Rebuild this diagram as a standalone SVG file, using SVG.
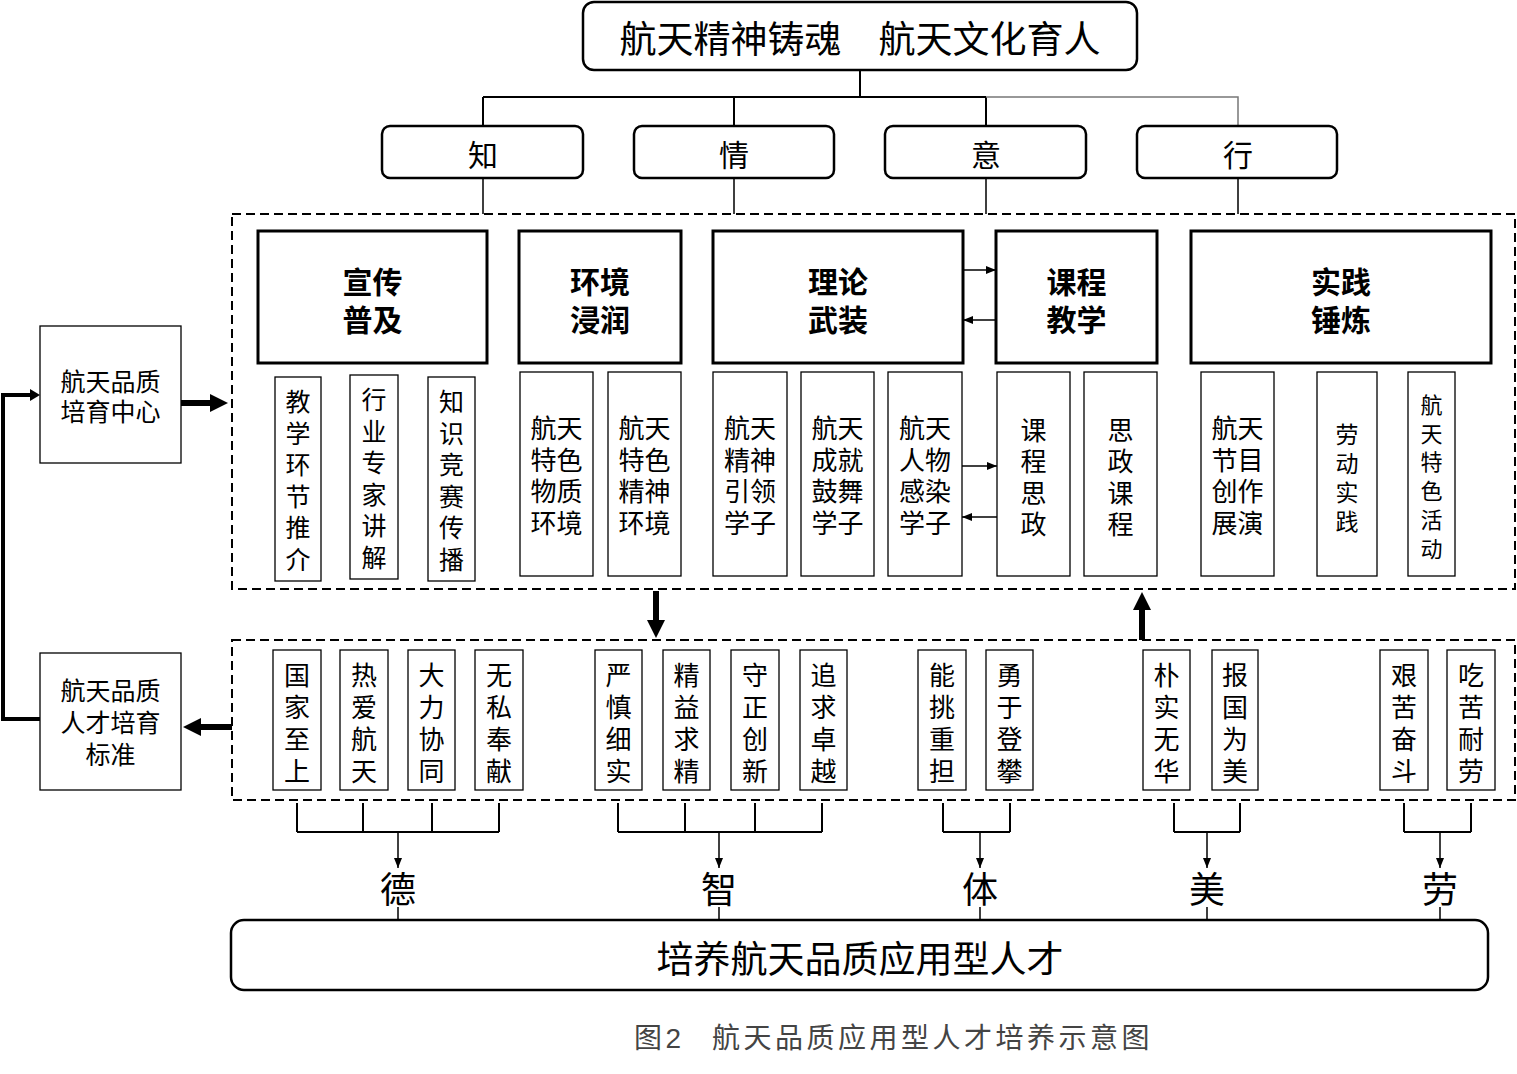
<svg xmlns="http://www.w3.org/2000/svg" width="1517" height="1074" viewBox="0 0 1517 1074">
<style>
text{font-family:"Liberation Sans","Noto Sans CJK SC",sans-serif;fill:#000;text-anchor:middle}
.rr{fill:#fff;stroke:#000;stroke-width:2.5}
.big{fill:#fff;stroke:#000;stroke-width:3}
.sm{fill:#fff;stroke:#000;stroke-width:1.3}
.dash{fill:none;stroke:#000;stroke-width:2;stroke-dasharray:9 5}
.ln{fill:none;stroke:#000;stroke-width:2}
.thin{fill:none;stroke:#000;stroke-width:1.5}
.thick{fill:none;stroke:#000;stroke-width:6}
.t37{font-size:37px}
.t30{font-size:30px}
.b30{font-size:30px;font-weight:bold}
.t26{font-size:26px}
.t25{font-size:25px}
.t23{font-size:23px}
.t22{font-size:22px}
.t36{font-size:36px}
.cap{font-size:28px;fill:#444;letter-spacing:3.5px;text-anchor:start}
</style>
<defs>
<marker id="a" viewBox="0 0 10 8" refX="10" refY="4" markerWidth="10" markerHeight="8" markerUnits="userSpaceOnUse" orient="auto"><path d="M0,0L10,4L0,8z" fill="#000"/></marker>
<marker id="A" viewBox="0 0 18 18" refX="0" refY="9" markerWidth="18" markerHeight="18" markerUnits="userSpaceOnUse" orient="auto"><path d="M0,0L18,9L0,18z" fill="#000"/></marker>
<marker id="M" viewBox="0 0 10 12" refX="0" refY="6" markerWidth="10" markerHeight="12" markerUnits="userSpaceOnUse" orient="auto"><path d="M0,0L10,6L0,12z" fill="#000"/></marker>
</defs>

<g id="connectors">
<path class="ln" d="M860,70V97M483,97H986M483,97V126M734,97V126M986,97V126"/>
<path d="M986,97H1238V126" fill="none" stroke="#777" stroke-width="1.5"/>
<path class="thin" d="M483,178V214M734,178V214M986,178V214M1238,178V214"/>
<path class="thin" d="M963,270H996" marker-end="url(#a)"/>
<path class="thin" d="M996,320H963" marker-end="url(#a)"/>
<path class="thin" d="M962,466H997" marker-end="url(#a)"/>
<path class="thin" d="M997,517H962" marker-end="url(#a)"/>
<path class="thick" d="M181,403H210" marker-end="url(#A)"/>
<path fill="none" stroke="#000" stroke-width="4" d="M40,719H3V395H30" marker-end="url(#M)"/>
<path class="thick" d="M232,727H201" marker-end="url(#A)"/>
<path class="thick" d="M656,591V620" marker-end="url(#A)"/>
<path class="thick" d="M1142,640V610" marker-end="url(#A)"/>
<path class="ln" d="M297,803V832M363,803V832M432,803V832M499,803V832M297,832H499"/>
<path class="thin" d="M398,832V868" marker-end="url(#a)"/>
<path class="ln" d="M618,803V832M685,803V832M755,803V832M822,803V832M618,832H822"/>
<path class="thin" d="M719,832V868" marker-end="url(#a)"/>
<path class="ln" d="M943,803V832M1010,803V832M943,832H1010"/>
<path class="thin" d="M980,832V868" marker-end="url(#a)"/>
<path class="ln" d="M1174,803V832M1240,803V832M1174,832H1240"/>
<path class="thin" d="M1207,832V868" marker-end="url(#a)"/>
<path class="ln" d="M1404,803V832M1471,803V832M1404,832H1471"/>
<path class="thin" d="M1440,832V868" marker-end="url(#a)"/>
<path class="thin" d="M398,907V920M719,907V920M980,907V920M1207,907V920M1440,907V920"/>
</g>

<g id="title"><rect class="rr" x="583" y="2" width="554" height="68" rx="11"/><text class="t37" x="860" y="53">航天精神铸魂　航天文化育人</text></g>
<g id="zhi"><rect class="rr" x="382" y="126" width="201" height="52" rx="8"/><text class="t30" x="483" y="166">知</text></g>
<g id="qing"><rect class="rr" x="634" y="126" width="200" height="52" rx="8"/><text class="t30" x="734" y="166">情</text></g>
<g id="yi"><rect class="rr" x="885" y="126" width="201" height="52" rx="8"/><text class="t30" x="986" y="166">意</text></g>
<g id="xing"><rect class="rr" x="1137" y="126" width="200" height="52" rx="8"/><text class="t30" x="1238" y="166">行</text></g>

<g id="upper-group"><rect class="dash" x="232" y="214" width="1283" height="375"/></g>

<g id="xuanchuan"><rect class="big" x="258" y="231" width="229" height="132"/><text class="b30" x="372.5" y="293">宣传</text><text class="b30" x="372.5" y="331">普及</text></g>
<g id="huanjing"><rect class="big" x="519" y="231" width="162" height="132"/><text class="b30" x="600" y="293">环境</text><text class="b30" x="600" y="331">浸润</text></g>
<g id="lilun"><rect class="big" x="713" y="231" width="250" height="132"/><text class="b30" x="838" y="293">理论</text><text class="b30" x="838" y="331">武装</text></g>
<g id="kecheng"><rect class="big" x="996" y="231" width="161" height="132"/><text class="b30" x="1076.5" y="293">课程</text><text class="b30" x="1076.5" y="331">教学</text></g>
<g id="shijian"><rect class="big" x="1191" y="231" width="300" height="132"/><text class="b30" x="1341" y="293">实践</text><text class="b30" x="1341" y="331">锤炼</text></g>

<g id="s1"><rect class="sm" x="275" y="377" width="46" height="204"/><text class="t25" x="298" y="411"><tspan x="298">教</tspan><tspan x="298" dy="31.6">学</tspan><tspan x="298" dy="31.6">环</tspan><tspan x="298" dy="31.6">节</tspan><tspan x="298" dy="31.6">推</tspan><tspan x="298" dy="31.6">介</tspan></text></g>
<g id="s2"><rect class="sm" x="350" y="375" width="48" height="204"/><text class="t25" x="374" y="409"><tspan x="374">行</tspan><tspan x="374" dy="31.6">业</tspan><tspan x="374" dy="31.6">专</tspan><tspan x="374" dy="31.6">家</tspan><tspan x="374" dy="31.6">讲</tspan><tspan x="374" dy="31.6">解</tspan></text></g>
<g id="s3"><rect class="sm" x="428" y="377" width="47" height="204"/><text class="t25" x="451.5" y="411"><tspan x="451.5">知</tspan><tspan x="451.5" dy="31.6">识</tspan><tspan x="451.5" dy="31.6">竞</tspan><tspan x="451.5" dy="31.6">赛</tspan><tspan x="451.5" dy="31.6">传</tspan><tspan x="451.5" dy="31.6">播</tspan></text></g>

<g id="s4"><rect class="sm" x="520" y="372" width="73" height="204"/><text class="t26" x="556.5" y="438"><tspan x="556.5">航天</tspan><tspan x="556.5" dy="31.7">特色</tspan><tspan x="556.5" dy="31.7">物质</tspan><tspan x="556.5" dy="31.7">环境</tspan></text></g>
<g id="s5"><rect class="sm" x="608" y="372" width="73" height="204"/><text class="t26" x="644.5" y="438"><tspan x="644.5">航天</tspan><tspan x="644.5" dy="31.7">特色</tspan><tspan x="644.5" dy="31.7">精神</tspan><tspan x="644.5" dy="31.7">环境</tspan></text></g>
<g id="s6"><rect class="sm" x="713" y="372" width="74" height="204"/><text class="t26" x="750" y="438"><tspan x="750">航天</tspan><tspan x="750" dy="31.7">精神</tspan><tspan x="750" dy="31.7">引领</tspan><tspan x="750" dy="31.7">学子</tspan></text></g>
<g id="s7"><rect class="sm" x="801" y="372" width="73" height="204"/><text class="t26" x="837.5" y="438"><tspan x="837.5">航天</tspan><tspan x="837.5" dy="31.7">成就</tspan><tspan x="837.5" dy="31.7">鼓舞</tspan><tspan x="837.5" dy="31.7">学子</tspan></text></g>
<g id="s8"><rect class="sm" x="888" y="372" width="74" height="204"/><text class="t26" x="925" y="438"><tspan x="925">航天</tspan><tspan x="925" dy="31.7">人物</tspan><tspan x="925" dy="31.7">感染</tspan><tspan x="925" dy="31.7">学子</tspan></text></g>
<g id="s9"><rect class="sm" x="997" y="372" width="73" height="204"/><text class="t26" x="1033.5" y="440"><tspan x="1033.5">课</tspan><tspan x="1033.5" dy="31.3">程</tspan><tspan x="1033.5" dy="31.3">思</tspan><tspan x="1033.5" dy="31.3">政</tspan></text></g>
<g id="s10"><rect class="sm" x="1084" y="372" width="73" height="204"/><text class="t26" x="1120.5" y="440"><tspan x="1120.5">思</tspan><tspan x="1120.5" dy="31.3">政</tspan><tspan x="1120.5" dy="31.3">课</tspan><tspan x="1120.5" dy="31.3">程</tspan></text></g>
<g id="s11"><rect class="sm" x="1201" y="372" width="73" height="204"/><text class="t26" x="1237.5" y="438"><tspan x="1237.5">航天</tspan><tspan x="1237.5" dy="31.7">节目</tspan><tspan x="1237.5" dy="31.7">创作</tspan><tspan x="1237.5" dy="31.7">展演</tspan></text></g>
<g id="s12"><rect class="sm" x="1317" y="372" width="60" height="204"/><text class="t23" x="1347" y="443"><tspan x="1347">劳</tspan><tspan x="1347" dy="29">动</tspan><tspan x="1347" dy="29">实</tspan><tspan x="1347" dy="29">践</tspan></text></g>
<g id="s13"><rect class="sm" x="1408" y="372" width="47" height="204"/><text class="t22" x="1431.5" y="413"><tspan x="1431.5">航</tspan><tspan x="1431.5" dy="28.7">天</tspan><tspan x="1431.5" dy="28.7">特</tspan><tspan x="1431.5" dy="28.7">色</tspan><tspan x="1431.5" dy="28.7">活</tspan><tspan x="1431.5" dy="28.7">动</tspan></text></g>

<g id="center"><rect class="sm" x="40" y="326" width="141" height="137"/><text class="t25" x="110.5" y="391">航天品质</text><text class="t25" x="110.5" y="421">培育中心</text></g>
<g id="standard"><rect class="sm" x="40" y="653" width="141" height="137"/><text class="t25" x="110.5" y="700">航天品质</text><text class="t25" x="110.5" y="732">人才培育</text><text class="t25" x="110.5" y="764">标准</text></g>

<g id="lower-group"><rect class="dash" x="232" y="640" width="1283" height="160"/></g>

<g id="q1"><rect class="sm" x="273" y="650" width="48" height="140"/><text class="t26" x="297" y="685"><tspan x="297">国</tspan><tspan x="297" dy="32">家</tspan><tspan x="297" dy="32">至</tspan><tspan x="297" dy="32">上</tspan></text></g>
<g id="q2"><rect class="sm" x="340" y="650" width="48" height="140"/><text class="t26" x="364" y="685"><tspan x="364">热</tspan><tspan x="364" dy="32">爱</tspan><tspan x="364" dy="32">航</tspan><tspan x="364" dy="32">天</tspan></text></g>
<g id="q3"><rect class="sm" x="408" y="650" width="47" height="140"/><text class="t26" x="431.5" y="685"><tspan x="431.5">大</tspan><tspan x="431.5" dy="32">力</tspan><tspan x="431.5" dy="32">协</tspan><tspan x="431.5" dy="32">同</tspan></text></g>
<g id="q4"><rect class="sm" x="475" y="650" width="48" height="140"/><text class="t26" x="499" y="685"><tspan x="499">无</tspan><tspan x="499" dy="32">私</tspan><tspan x="499" dy="32">奉</tspan><tspan x="499" dy="32">献</tspan></text></g>
<g id="q5"><rect class="sm" x="595" y="650" width="47" height="140"/><text class="t26" x="618.5" y="685"><tspan x="618.5">严</tspan><tspan x="618.5" dy="32">慎</tspan><tspan x="618.5" dy="32">细</tspan><tspan x="618.5" dy="32">实</tspan></text></g>
<g id="q6"><rect class="sm" x="663" y="650" width="47" height="140"/><text class="t26" x="686.5" y="685"><tspan x="686.5">精</tspan><tspan x="686.5" dy="32">益</tspan><tspan x="686.5" dy="32">求</tspan><tspan x="686.5" dy="32">精</tspan></text></g>
<g id="q7"><rect class="sm" x="731" y="650" width="48" height="140"/><text class="t26" x="755" y="685"><tspan x="755">守</tspan><tspan x="755" dy="32">正</tspan><tspan x="755" dy="32">创</tspan><tspan x="755" dy="32">新</tspan></text></g>
<g id="q8"><rect class="sm" x="800" y="650" width="47" height="140"/><text class="t26" x="823.5" y="685"><tspan x="823.5">追</tspan><tspan x="823.5" dy="32">求</tspan><tspan x="823.5" dy="32">卓</tspan><tspan x="823.5" dy="32">越</tspan></text></g>
<g id="q9"><rect class="sm" x="918" y="650" width="48" height="140"/><text class="t26" x="942" y="685"><tspan x="942">能</tspan><tspan x="942" dy="32">挑</tspan><tspan x="942" dy="32">重</tspan><tspan x="942" dy="32">担</tspan></text></g>
<g id="q10"><rect class="sm" x="986" y="650" width="47" height="140"/><text class="t26" x="1009.5" y="685"><tspan x="1009.5">勇</tspan><tspan x="1009.5" dy="32">于</tspan><tspan x="1009.5" dy="32">登</tspan><tspan x="1009.5" dy="32">攀</tspan></text></g>
<g id="q11"><rect class="sm" x="1143" y="650" width="47" height="140"/><text class="t26" x="1166.5" y="685"><tspan x="1166.5">朴</tspan><tspan x="1166.5" dy="32">实</tspan><tspan x="1166.5" dy="32">无</tspan><tspan x="1166.5" dy="32">华</tspan></text></g>
<g id="q12"><rect class="sm" x="1212" y="650" width="46" height="140"/><text class="t26" x="1235" y="685"><tspan x="1235">报</tspan><tspan x="1235" dy="32">国</tspan><tspan x="1235" dy="32">为</tspan><tspan x="1235" dy="32">美</tspan></text></g>
<g id="q13"><rect class="sm" x="1380" y="650" width="48" height="140"/><text class="t26" x="1404" y="685"><tspan x="1404">艰</tspan><tspan x="1404" dy="32">苦</tspan><tspan x="1404" dy="32">奋</tspan><tspan x="1404" dy="32">斗</tspan></text></g>
<g id="q14"><rect class="sm" x="1447" y="650" width="48" height="140"/><text class="t26" x="1471" y="685"><tspan x="1471">吃</tspan><tspan x="1471" dy="32">苦</tspan><tspan x="1471" dy="32">耐</tspan><tspan x="1471" dy="32">劳</tspan></text></g>

<g id="de"><text class="t36" x="398" y="903">德</text></g>
<g id="zhi2"><text class="t36" x="719" y="903">智</text></g>
<g id="ti"><text class="t36" x="980" y="903">体</text></g>
<g id="mei"><text class="t36" x="1207" y="903">美</text></g>
<g id="lao"><text class="t36" x="1440" y="903">劳</text></g>

<g id="goal"><rect class="rr" x="231" y="920" width="1257" height="70" rx="13" stroke-width="3"/><text class="t37" x="860" y="973">培养航天品质应用型人才</text></g>

<g id="caption"><text class="cap" x="634" y="1048">图2<tspan x="712">航天品质应用型人才培养示意图</tspan></text></g>
</svg>
